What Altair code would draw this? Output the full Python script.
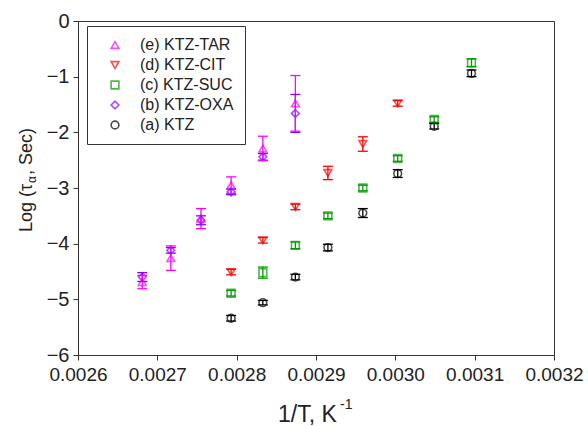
import altair as alt
import pandas as pd

# 1/T (K^-1) of the measurement temperatures, 373 K down to 323 K in 5 K steps
inv_t = [0.002681, 0.002717, 0.002755, 0.002793, 0.002833, 0.002874,
         0.002915, 0.002959, 0.003003, 0.003049, 0.003096]

series_names = ["(e) KTZ-TAR", "(d) KTZ-CIT", "(c) KTZ-SUC", "(b) KTZ-OXA", "(a) KTZ"]
series_colors = ["#FF00FF", "#FF0000", "#009900", "#8800FF", "#000000"]
series_shapes = ["triangle-up", "triangle-down", "square", "diamond", "circle"]

# log(tau_alpha) and its uncertainty for each system
tar_x = inv_t[0:6]
tar_log_tau = [-4.69, -4.26, -3.55, -2.95, -2.29, -1.48]
tar_err = [0.12, 0.22, 0.18, 0.15, 0.22, 0.50]

cit_x = inv_t[3:9]
cit_log_tau = [-4.51, -3.94, -3.34, -2.73, -2.21, -1.48]
cit_err = [0.05, 0.05, 0.05, 0.12, 0.13, 0.05]

suc_x = inv_t[3:11]
suc_log_tau = [-4.89, -4.52, -4.03, -3.50, -3.00, -2.47, -1.77, -0.75]
suc_err = [0.05, 0.10, 0.06, 0.05, 0.05, 0.05, 0.05, 0.07]

oxa_x = inv_t[0:6]
oxa_log_tau = [-4.60, -4.12, -3.58, -3.07, -2.44, -1.66]
oxa_err = [0.08, 0.05, 0.08, 0.05, 0.06, 0.34]

ktz_x = inv_t[3:11]
ktz_log_tau = [-5.34, -5.06, -4.60, -4.07, -3.45, -2.74, -1.89, -0.94]
ktz_err = [0.05, 0.04, 0.05, 0.06, 0.08, 0.07, 0.05, 0.06]

x_ticks = [0.0026, 0.0027, 0.0028, 0.0029, 0.0030, 0.0031, 0.0032]
y_ticks = [-6, -5, -4, -3, -2, -1, 0]

FONT = "Liberation Sans"

# rows go in (a)..(e) order so that later series draw on top
rows = []
for name, xs, ys, es in reversed(list(zip(
    series_names,
    [tar_x, cit_x, suc_x, oxa_x, ktz_x],
    [tar_log_tau, cit_log_tau, suc_log_tau, oxa_log_tau, ktz_log_tau],
    [tar_err, cit_err, suc_err, oxa_err, ktz_err],
))):
    for xv, yv, ev in zip(xs, ys, es):
        rows.append({"series": name, "inv_t": xv, "log_tau": yv,
                     "lo": yv - ev, "hi": yv + ev})
df = pd.DataFrame(rows)

x_enc = alt.X("inv_t:Q",
              scale=alt.Scale(domain=[0.0026, 0.0032], nice=False, zero=False),
              axis=alt.Axis(values=x_ticks, format=".4f", title=None,
                            labelOverlap=False, labelFlush=False))
y_scale = alt.Scale(domain=[-6, 0], nice=False, zero=False)
y_axis = alt.Axis(values=y_ticks, format="d", title=None)

color_scale = alt.Scale(domain=series_names, range=series_colors)
shape_scale = alt.Scale(domain=series_names, range=series_shapes)

legend = alt.Legend(
    title=None, orient="none", legendX=9, legendY=5,
    padding=11, symbolOffset=9, labelOffset=17, rowPadding=4,
    strokeColor="#333333", fillColor="white",
    labelFontSize=16, labelFont=FONT, labelColor="#222222",
    symbolSize=60, symbolStrokeWidth=1.6,
)

base = alt.Chart(df)

# open markers carry the legend
points = base.mark_point(filled=False, size=60, strokeWidth=1.6).encode(
    x=x_enc,
    y=alt.Y("log_tau:Q", scale=y_scale, axis=y_axis),
    color=alt.Color("series:N", scale=color_scale, legend=legend),
    shape=alt.Shape("series:N", scale=shape_scale, legend=legend),
)

# error bars: vertical stem plus two caps, all stroked rules
stroke_enc = alt.Stroke("series:N", scale=color_scale, legend=None)
stems = base.mark_rule(strokeWidth=1.3).encode(
    x=x_enc,
    y=alt.Y("lo:Q", scale=y_scale, axis=y_axis),
    y2="hi:Q",
    stroke=stroke_enc,
)
cap_lo = base.mark_rule(strokeWidth=1.3, xOffset=-5, x2Offset=5).encode(
    x=x_enc,
    x2="inv_t:Q",
    y=alt.Y("lo:Q", scale=y_scale, axis=y_axis),
    stroke=stroke_enc,
)
cap_hi = base.mark_rule(strokeWidth=1.3, xOffset=-5, x2Offset=5).encode(
    x=x_enc,
    x2="inv_t:Q",
    y=alt.Y("hi:Q", scale=y_scale, axis=y_axis),
    stroke=stroke_enc,
)

# axis titles, drawn as text so the subscript and superscript can be set
title_df = pd.DataFrame({"k": [0]})
tb = alt.Chart(title_df)
y_title = [
    tb.mark_text(text="Log (τ", font=FONT, fontSize=18, angle=270,
                 align="left", baseline="alphabetic", color="#222222"
                 ).encode(x=alt.value(-46), y=alt.value(211)),
    tb.mark_text(text="α", font=FONT, fontSize=12, angle=270,
                 align="left", baseline="alphabetic", color="#222222"
                 ).encode(x=alt.value(-42), y=alt.value(162)),
    tb.mark_text(text=", Sec)", font=FONT, fontSize=18, angle=270,
                 align="left", baseline="alphabetic", color="#222222"
                 ).encode(x=alt.value(-46), y=alt.value(154)),
]
x_title = [
    tb.mark_text(text="1/T, K", font=FONT, fontSize=23,
                 align="left", baseline="alphabetic", color="#222222"
                 ).encode(x=alt.value(200), y=alt.value(401)),
    tb.mark_text(text="-1", font=FONT, fontSize=14,
                 align="left", baseline="alphabetic", color="#222222"
                 ).encode(x=alt.value(262), y=alt.value(388)),
]

chart = alt.layer(points, stems, cap_lo, cap_hi, *y_title, *x_title).properties(
    width=476, height=334, autosize="none",
    padding={"left": 78, "top": 21, "right": 34, "bottom": 71},
).configure_view(
    stroke="#333333", strokeWidth=1
).configure_axis(
    grid=False, domainColor="#333333", tickColor="#333333",
    tickSize=5, labelFont=FONT, labelFontSize=19, labelColor="#222222",
).configure_axisX(
    labelPadding=5
).configure_axisY(
    labelPadding=4, labelFontSize=20
)

chart.save("out.html", embed_options={"renderer": "svg", "actions": False})
